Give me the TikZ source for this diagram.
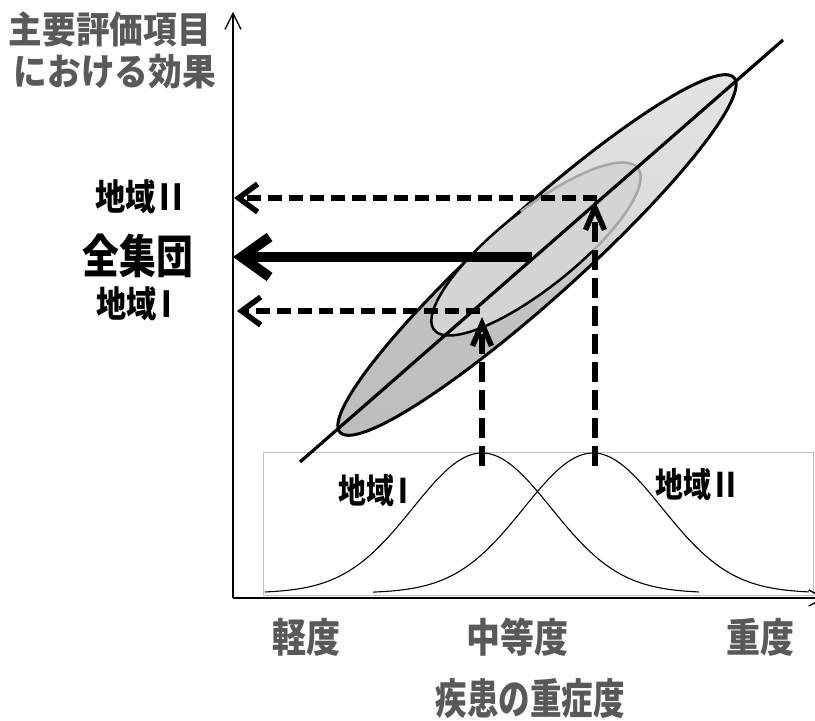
\documentclass[tikz,border=0pt]{standalone}
\usepackage{fontspec}
\newfontfamily\jp{Noto Sans CJK JP}
\usetikzlibrary{arrows.meta}
\definecolor{labgray}{HTML}{595959}
\pgfdeclareverticalshading{bigell}{100bp}{color(0bp)=(black!26); color(25bp)=(black!26); color(44bp)=(black!24); color(56bp)=(black!14); color(75bp)=(black!11); color(100bp)=(black!11)}
\newcommand{\rI}{\hspace{0.15em}I}
\newcommand{\rII}{\hspace{0.15em}I\hspace{0.06em}I}
\begin{document}
\begin{tikzpicture}[x=1pt,y=1pt,
  axisline/.style={line width=1.3pt, -{Straight Barb[length=16pt,width=16pt]}},
  lab/.style={font=\jp\bfseries\fontsize{37}{37}\selectfont, text=labgray, inner sep=0pt},
  reg/.style={font=\jp\bfseries\fontsize{36}{36}\selectfont, text=black, inner sep=0pt},
  hdash/.style={line width=5.5pt, dash pattern=on 14pt off 7pt, -{Straight Barb[length=19pt,width=28pt]}},
  vdash/.style={line width=5.5pt, dash pattern=on 20pt off 8pt, -{Straight Barb[length=22pt,width=19pt]}},
  thickarrow/.style={line width=10pt, -{Straight Barb[length=28pt,width=40pt]}},
  bell/.style={line width=1.1pt},
]
\useasboundingbox (0,0) rectangle (815,721);
% coordinates
\coordinate (O) at (233,123);
\coordinate (Ytop) at (233,709);
\coordinate (Xend) at (826,123);
\coordinate (d0) at (300,259);
\coordinate (d1) at (783,681);
\coordinate (h2s) at (597,523); \coordinate (h2e) at (234,523);
\coordinate (hAs) at (532,464); \coordinate (hAe) at (233,464);
\coordinate (h1s) at (480,410); \coordinate (h1e) at (237,410);
\coordinate (v1s) at (482,255); \coordinate (v1e) at (482,404);
\coordinate (v2s) at (595,255); \coordinate (v2e) at (595,520);
\coordinate (bx0) at (263,126); \coordinate (bx1) at (813,269);
% distribution box and curves
\draw[black!25, line width=0.8pt] (bx0) rectangle (bx1);
\draw[bell] plot[domain=-2.17:2.17, samples=100] ({482+100*\x}, {128+140*exp(-\x*\x/0.9572)});
\draw[bell] plot[domain=-2.20:2.16, samples=100] ({593+100*\x}, {128+140*exp(-\x*\x/0.9572)});
% big ellipse
\shade[shading=bigell, draw=black, line width=3pt, line join=round]
  plot[domain=0:360, samples=181] ({537+265*cos(\x)*0.7431-44*sin(\x)*0.6691}, {466+265*cos(\x)*0.6691+44*sin(\x)*0.7431}) -- cycle;
% small ellipse
\fill[black!17] plot[domain=0:360, samples=181] ({536+130*cos(\x)*0.7826-39*sin(\x)*0.6225}, {472+130*cos(\x)*0.6225+39*sin(\x)*0.7826}) -- cycle;
\draw[black!35, line width=2.5pt] plot[domain=-71:85, samples=80] ({536+130*cos(\x)*0.7826-39*sin(\x)*0.6225}, {472+130*cos(\x)*0.6225+39*sin(\x)*0.7826});
\draw[black, line width=2.5pt, line join=round] plot[domain=85:289, samples=100] ({536+130*cos(\x)*0.7826-39*sin(\x)*0.6225}, {472+130*cos(\x)*0.6225+39*sin(\x)*0.7826});
% diagonal
\draw[line width=3.2pt] (d0) -- (d1);
% arrows
\draw[hdash] (h2s) -- (h2e);
\draw[thickarrow] (hAs) -- (hAe);
\draw[hdash] (h1s) -- (h1e);
\draw[vdash] (v1s) -- (v1e);
\draw[vdash] (v2s) -- (v2e);
% axes
\draw[axisline] (O) -- (Ytop);
\draw[axisline] (O) -- (Xend);
% labels
\node[lab, xscale=0.91] (yl1) at (110,692) {主要評価項目};
\node[lab, xscale=0.91] (yl2) at (115,649) {における効果};
\node[reg, xscale=0.84] (rII) at (139,524) {地域\rII};
\node[reg, font=\jp\bfseries\fontsize{46}{46}\selectfont, xscale=0.8] (all) at (138,465) {全集団};
\node[reg, xscale=0.84] (rI) at (134,417) {地域\rI};
\node[reg, font=\jp\bfseries\fontsize{34}{34}\selectfont, xscale=0.82] (bI) at (373,230) {地域\rI};
\node[reg, font=\jp\bfseries\fontsize{34}{34}\selectfont, xscale=0.82] (bII) at (696,236) {地域\rII};
\node[lab, font=\jp\bfseries\fontsize{40}{40}\selectfont, xscale=0.85] (xl1) at (306,84) {軽度};
\node[lab, font=\jp\bfseries\fontsize{40}{40}\selectfont, xscale=0.85] (xl2) at (517,84) {中等度};
\node[lab, font=\jp\bfseries\fontsize{40}{40}\selectfont, xscale=0.85] (xl3) at (760,84) {重度};
\node[lab, font=\jp\bfseries\fontsize{42}{42}\selectfont, xscale=0.75] (xlab) at (530,22) {疾患の重症度};
\end{tikzpicture}
\end{document}
